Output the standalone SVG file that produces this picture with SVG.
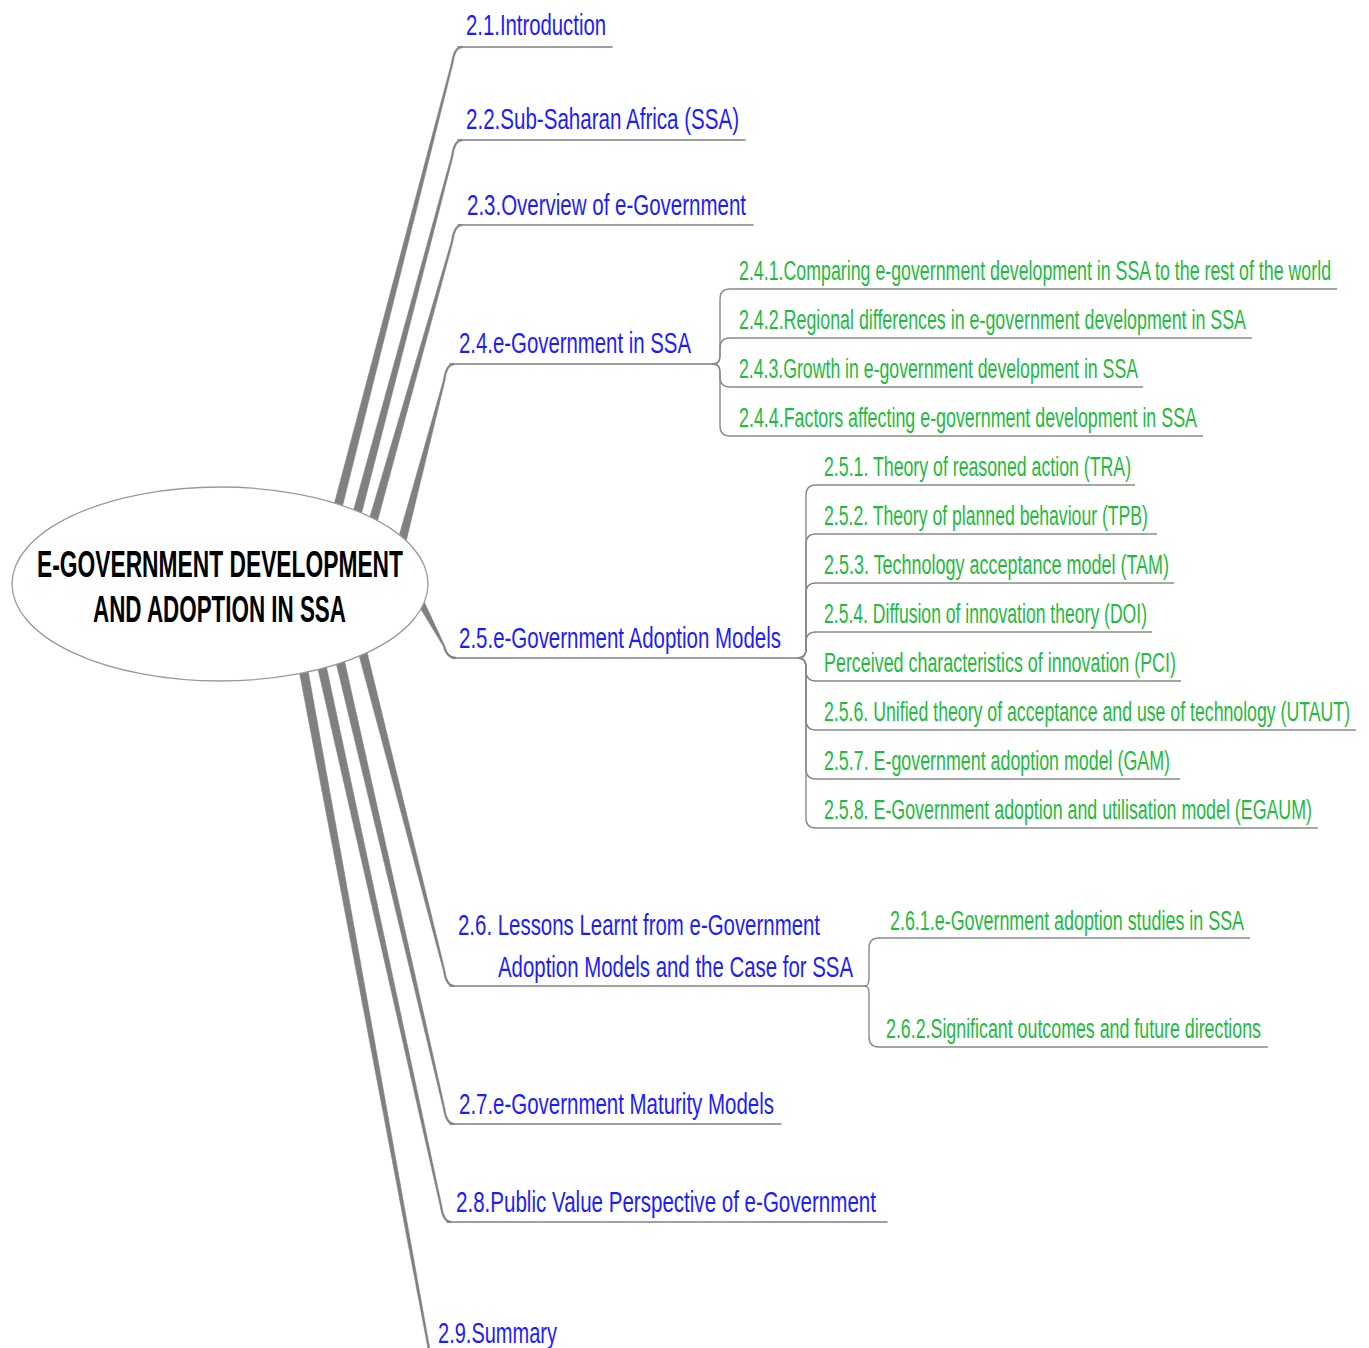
<svg xmlns="http://www.w3.org/2000/svg" width="1369" height="1348" viewBox="0 0 1369 1348">
  <style>
    .ribbon { fill: #808080; stroke: #808080; stroke-width: 0.6; }
    .rule { fill: none; stroke: #808080; stroke-width: 1.6; stroke-linecap: round; }
    .twig { fill: none; stroke: #8a8a8a; stroke-width: 1.4; }
    .main { font-family: "Liberation Sans", Arial, sans-serif; font-size: 30px; fill: #1c1cff; }
    .sub { font-family: "Liberation Sans", Arial, sans-serif; font-size: 27px; fill: #22bb3e; }
    .root { font-family: "Liberation Sans", Arial, sans-serif; font-size: 36px; font-weight: bold; fill: #000; }
  </style>
  <rect width="1369" height="1348" fill="#ffffff"/>

  <!-- tapered main branches and their underlines -->
  <g id="connectors">
    <path class="ribbon" d="M330.5,518 L451.2,64 Q453.4,46.2 462,46.2 L462,47.8 Q455,47.8 452.8,64 L339.5,518 Z"/>
    <path class="ribbon" d="M349.5,525 L451.2,157 Q453.4,139.2 462,139.2 L462,140.8 Q455,140.8 452.8,157 L358.5,525 Z"/>
    <path class="ribbon" d="M365.5,532 L451.2,242 Q453.4,224.2 462,224.2 L462,225.8 Q455,225.8 452.8,242 L374.5,532 Z"/>
    <path class="ribbon" d="M394.5,552 L443.2,381 Q445.4,363.2 454,363.2 L454,364.8 Q447,364.8 444.8,381 L403.5,552 Z"/>
    <path class="ribbon" d="M410.5,592 L443.2,646 Q446,658.8 456,658.8 L456,657.2 Q447.5,657.2 444.8,646 L419.5,592 Z"/>
    <path class="ribbon" d="M355.5,642 L443.2,970 Q445.4,986.8 454,986.8 L454,985.2 Q447,985.2 444.8,970 L364.5,642 Z"/>
    <path class="ribbon" d="M333.5,652 L443.2,1108 Q445.4,1124.8 454,1124.8 L454,1123.2 Q447,1123.2 444.8,1108 L342.5,652 Z"/>
    <path class="ribbon" d="M315.5,658 L440.2,1206 Q442.4,1222.8 451,1222.8 L451,1221.2 Q444,1221.2 441.8,1206 L324.5,658 Z"/>
    <path class="ribbon" d="M297.5,662 L430.2,1360 L431.8,1360 L306.5,662 Z"/>

    <path class="rule" d="M458,47 H612"/>
    <path class="rule" d="M458,140 H745"/>
    <path class="rule" d="M458,225 H753"/>
    <path class="rule" d="M450,364 H712"/>
    <path class="rule" d="M452,658 H797"/>
    <path class="rule" d="M450,986 H864"/>
    <path class="rule" d="M450,1124 H781"/>
    <path class="rule" d="M447,1222 H887"/>

    <!-- 2.4 children -->
    <path class="twig" d="M712,364 C718,364 720,362 720,354 L720,299 Q720,289 730,289 L1337,289"/>
    <path class="twig" d="M712,364 C718,364 720,362 720,354 L720,348 Q720,338 730,338 L1252,338"/>
    <path class="twig" d="M712,364 C718,364 720,366 720,374 L720,377 Q720,387 730,387 L1143,387"/>
    <path class="twig" d="M712,364 C718,364 720,366 720,374 L720,426 Q720,436 730,436 L1203,436"/>
    <!-- 2.5 children -->
    <path class="twig" d="M797,658 C803,658 806,656 806,648 L806,495 Q806,485 816,485 L1135,485"/>
    <path class="twig" d="M797,658 C803,658 806,656 806,648 L806,544 Q806,534 816,534 L1157,534"/>
    <path class="twig" d="M797,658 C803,658 806,656 806,648 L806,593 Q806,583 816,583 L1174,583"/>
    <path class="twig" d="M797,658 C803,658 806,656 806,648 L806,642 Q806,632 816,632 L1152,632"/>
    <path class="twig" d="M797,658 C803,658 806,660 806,668 L806,671 Q806,681 816,681 L1181,681"/>
    <path class="twig" d="M797,658 C803,658 806,660 806,668 L806,720 Q806,730 816,730 L1356,730"/>
    <path class="twig" d="M797,658 C803,658 806,660 806,668 L806,769 Q806,779 816,779 L1180,779"/>
    <path class="twig" d="M797,658 C803,658 806,660 806,668 L806,818 Q806,828 816,828 L1318,828"/>
    <!-- 2.6 children -->
    <path class="twig" d="M864,986 C868,986 869,984 869,976 L869,948 Q869,938 879,938 L1250,938"/>
    <path class="twig" d="M864,986 C868,986 869,988 869,996 L869,1037 Q869,1047 879,1047 L1268,1047"/>
  </g>

  <!-- central topic; labels are narrowed horizontally to a condensed face -->
  <g id="center">
    <ellipse cx="220" cy="584" rx="208" ry="97" fill="#ffffff" stroke="#9a9a9a" stroke-width="1.3"/>
    <text class="root" transform="translate(37 577) scale(0.635 1)" textLength="576.4" lengthAdjust="spacingAndGlyphs">E-GOVERNMENT DEVELOPMENT</text>
    <text class="root" transform="translate(93 622) scale(0.635 1)" textLength="398.4" lengthAdjust="spacingAndGlyphs">AND ADOPTION IN SSA</text>
  </g>

  <g id="n2-1"><text class="main" transform="translate(466 35) scale(0.68 1)" textLength="205.9" lengthAdjust="spacingAndGlyphs">2.1.Introduction</text></g>
  <g id="n2-2"><text class="main" transform="translate(466 129) scale(0.68 1)" textLength="401.5" lengthAdjust="spacingAndGlyphs">2.2.Sub-Saharan Africa (SSA)</text></g>
  <g id="n2-3"><text class="main" transform="translate(467 215) scale(0.68 1)" textLength="410.3" lengthAdjust="spacingAndGlyphs">2.3.Overview of e-Government</text></g>
  <g id="n2-4"><text class="main" transform="translate(459 353) scale(0.68 1)" textLength="341.2" lengthAdjust="spacingAndGlyphs">2.4.e-Government in SSA</text></g>
  <g id="n2-4-1"><text class="sub" transform="translate(739 280) scale(0.66 1)" textLength="897" lengthAdjust="spacingAndGlyphs">2.4.1.Comparing e-government development in SSA to the rest of the world</text></g>
  <g id="n2-4-2"><text class="sub" transform="translate(739 329) scale(0.66 1)" textLength="768.2" lengthAdjust="spacingAndGlyphs">2.4.2.Regional differences in e-government development in SSA</text></g>
  <g id="n2-4-3"><text class="sub" transform="translate(739 378) scale(0.66 1)" textLength="604.5" lengthAdjust="spacingAndGlyphs">2.4.3.Growth in e-government development in SSA</text></g>
  <g id="n2-4-4"><text class="sub" transform="translate(739 427) scale(0.66 1)" textLength="693.9" lengthAdjust="spacingAndGlyphs">2.4.4.Factors affecting e-government development in SSA</text></g>
  <g id="n2-5"><text class="main" transform="translate(459 648) scale(0.68 1)" textLength="473.5" lengthAdjust="spacingAndGlyphs">2.5.e-Government Adoption Models</text></g>
  <g id="n2-5-1"><text class="sub" transform="translate(824 476) scale(0.66 1)" textLength="465.2" lengthAdjust="spacingAndGlyphs">2.5.1. Theory of reasoned action (TRA)</text></g>
  <g id="n2-5-2"><text class="sub" transform="translate(824 525) scale(0.66 1)" textLength="490.9" lengthAdjust="spacingAndGlyphs">2.5.2. Theory of planned behaviour (TPB)</text></g>
  <g id="n2-5-3"><text class="sub" transform="translate(824 574) scale(0.66 1)" textLength="522.7" lengthAdjust="spacingAndGlyphs">2.5.3. Technology acceptance model (TAM)</text></g>
  <g id="n2-5-4"><text class="sub" transform="translate(824 623) scale(0.66 1)" textLength="489.4" lengthAdjust="spacingAndGlyphs">2.5.4. Diffusion of innovation theory (DOI)</text></g>
  <g id="n2-5-5"><text class="sub" transform="translate(824 672) scale(0.66 1)" textLength="533.3" lengthAdjust="spacingAndGlyphs">Perceived characteristics of innovation (PCI)</text></g>
  <g id="n2-5-6"><text class="sub" transform="translate(824 721) scale(0.66 1)" textLength="797" lengthAdjust="spacingAndGlyphs">2.5.6. Unified theory of acceptance and use of technology (UTAUT)</text></g>
  <g id="n2-5-7"><text class="sub" transform="translate(824 770) scale(0.66 1)" textLength="524.2" lengthAdjust="spacingAndGlyphs">2.5.7. E-government adoption model (GAM)</text></g>
  <g id="n2-5-8"><text class="sub" transform="translate(824 819) scale(0.66 1)" textLength="739.4" lengthAdjust="spacingAndGlyphs">2.5.8. E-Government adoption and utilisation model (EGAUM)</text></g>
  <g id="n2-6">
    <text class="main" transform="translate(458 935) scale(0.68 1)" textLength="532.4" lengthAdjust="spacingAndGlyphs">2.6. Lessons Learnt from e-Government</text>
    <text class="main" transform="translate(498 977) scale(0.68 1)" textLength="522.1" lengthAdjust="spacingAndGlyphs">Adoption Models and the Case for SSA</text>
  </g>
  <g id="n2-6-1"><text class="sub" transform="translate(890 930) scale(0.66 1)" textLength="536.4" lengthAdjust="spacingAndGlyphs">2.6.1.e-Government adoption studies in SSA</text></g>
  <g id="n2-6-2"><text class="sub" transform="translate(886 1038) scale(0.66 1)" textLength="568.2" lengthAdjust="spacingAndGlyphs">2.6.2.Significant outcomes and future directions</text></g>
  <g id="n2-7"><text class="main" transform="translate(459 1114) scale(0.68 1)" textLength="463.2" lengthAdjust="spacingAndGlyphs">2.7.e-Government Maturity Models</text></g>
  <g id="n2-8"><text class="main" transform="translate(456 1212) scale(0.68 1)" textLength="617.6" lengthAdjust="spacingAndGlyphs">2.8.Public Value Perspective of e-Government</text></g>
  <g id="n2-9"><text class="main" transform="translate(438 1343) scale(0.68 1)" textLength="175" lengthAdjust="spacingAndGlyphs">2.9.Summary</text></g>
</svg>
